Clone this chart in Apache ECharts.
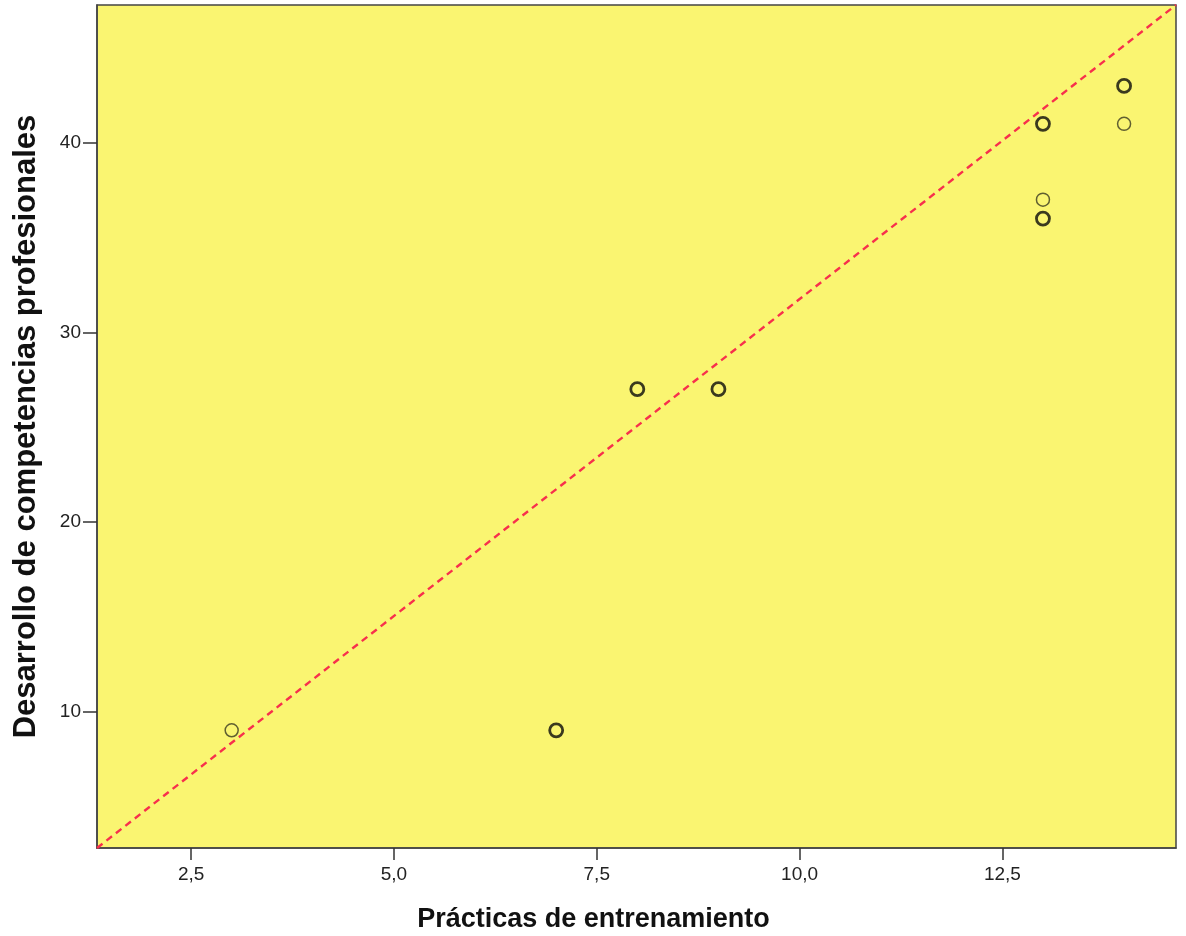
<!DOCTYPE html>
<html><head><meta charset="utf-8">
<script src="https://cdn.jsdelivr.net/npm/echarts@6/dist/echarts.min.js"></script>
<style>html,body{margin:0;padding:0;background:#fff}#c{width:1186px;height:936px}</style>
</head><body><div id="c"></div>
<script>
const practicas = [3, 7, 8, 9, 13, 13, 13, 14, 14];
const desarrollo = [9, 9, 27, 27, 41, 37, 36, 43, 41];
const overlap = [1, 2, 2, 2, 2, 1, 2, 2, 1];
const xTicks = [2.5, 5.0, 7.5, 10.0, 12.5];
const yTicks = [10, 20, 30, 40];
const xRange = [1.34, 14.64];
const yRange = [2.79, 47.27];
const xTitle = 'Prácticas de entrenamiento';
const yTitle = 'Desarrollo de competencias profesionales';

const pts = practicas.map((x, i) => ({
  value: [x, desarrollo[i]],
  itemStyle: { borderWidth: overlap[i] > 1 ? 2.8 : 1.5, borderColor: overlap[i] > 1 ? '#0a0a0a' : '#3a3a20' }
}));

const chart = echarts.init(document.getElementById('c'));
chart.setOption({
  animation: false,
  backgroundColor: '#fff',
  grid: { left: 97, top: 5, width: 1079, height: 843, containLabel: false, outerBoundsMode: 'none',
    show: true, backgroundColor: '#faf571', borderColor: '#444', borderWidth: 1.5 },
  xAxis: {
    type: 'value', min: xRange[0], max: xRange[1],
    name: xTitle, nameLocation: 'middle', nameGap: 58,
    nameTextStyle: { fontFamily: 'Liberation Sans', fontSize: 27, fontWeight: 'bold', color: '#111', padding: [0, 86, 0, 0] },
    axisLine: { show: true, onZero: false, lineStyle: { color: '#444', width: 1.5 } },
    axisTick: { show: true, length: 12, customValues: xTicks, lineStyle: { color: '#333', width: 1.5 } },
    axisLabel: { customValues: xTicks, margin: 17, fontFamily: 'Liberation Sans', fontSize: 19, color: '#222',
      formatter: v => v.toFixed(1).replace('.', ',') },
    splitLine: { show: false }
  },
  yAxis: {
    type: 'value', min: yRange[0], max: yRange[1],
    name: yTitle, nameLocation: 'middle', nameGap: 55, nameRotate: 90,
    nameTextStyle: { fontFamily: 'Liberation Sans', fontSize: 31, fontWeight: 'bold', color: '#111' },
    axisLine: { show: true, onZero: false, lineStyle: { color: '#444', width: 1.5 } },
    axisTick: { show: true, length: 14, customValues: yTicks, lineStyle: { color: '#333', width: 1.5 } },
    axisLabel: { customValues: yTicks, margin: 16, fontFamily: 'Liberation Sans', fontSize: 19, color: '#222' },
    splitLine: { show: false }
  },
  series: [
    {
      type: 'line', data: [[xRange[0], yRange[0]], [xRange[1], yRange[1]]],
      symbol: 'none', silent: true, z: 1,
      lineStyle: { color: '#f7304c', width: 2.4, type: [7, 5] }
    },
    {
      type: 'scatter', data: pts, symbol: 'circle', symbolSize: 13, z: 3,
      itemStyle: { color: 'rgba(0,0,0,0)' }
    }
  ]
});
</script></body></html>
